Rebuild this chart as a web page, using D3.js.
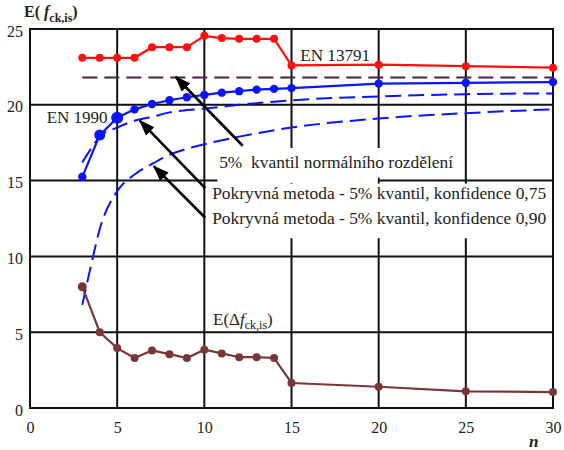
<!DOCTYPE html>
<html>
<head>
<meta charset="utf-8">
<script src="https://cdn.jsdelivr.net/npm/d3@7"></script>
<style>
  body { margin: 0; background: #fff; }
</style>
</head>
<body>
<svg class="chart"></svg>
<script>
const size = {w: 564, h: 450};
const plot = {left: 30, right: 553, top: 29, bottom: 408};
const serif = '"Liberation Serif"';

// x ticks / y ticks
const xTicks = [0, 5, 10, 15, 20, 25, 30];
const yTicks = [0, 5, 10, 15, 20, 25];

// EN 13791
const nRed = [3, 4, 5, 6, 7, 8, 9, 10, 11, 12, 13, 14, 15, 20, 25, 30];
const valRed = [23.1, 23.1, 23.1, 23.1, 23.8, 23.8, 23.8, 24.55, 24.4, 24.35, 24.35, 24.35, 22.6, 22.65, 22.55, 22.45];

// EN 1990
const nBlue = [3, 4, 5, 6, 7, 8, 9, 10, 11, 12, 13, 14, 15, 20, 25, 30];
const valBlue = [15.25, 18.0, 19.15, 19.7, 20.05, 20.3, 20.5, 20.65, 20.8, 20.9, 21.0, 21.05, 21.1, 21.4, 21.45, 21.5];

// E(delta f_ck,is)
const nBrown = [3, 4, 5, 6, 7, 8, 9, 10, 11, 12, 13, 14, 15, 20, 25, 30];
const valBrown = [8.0, 5.0, 3.95, 3.3, 3.8, 3.55, 3.3, 3.85, 3.6, 3.35, 3.35, 3.3, 1.65, 1.4, 1.1, 1.05];

// 5% kvantil normalniho rozdeleni
const nNormal = [3, 30];
const valNormal = [21.8, 21.8];

// pokryvna metoda, konfidence 0,75 a 0,90
const nCover = [3, 3.5, 4, 5, 6, 7, 8, 9, 10, 12, 15, 20, 25, 30];
const valCover75 = [16.2, 17.1, 17.9, 18.5, 18.95, 19.2, 19.5, 19.65, 19.75, 20.0, 20.3, 20.55, 20.7, 20.75];
const valCover90 = [6.8, 9.4, 11.8, 14.3, 15.4, 16.1, 16.7, 17.1, 17.4, 17.9, 18.5, 19.1, 19.45, 19.7];

const svg = d3.select('svg.chart')
    .attr('width', size.w)
    .attr('height', size.h);

const x = d3.scaleLinear().domain([0, 30]).range([plot.left, plot.right]);
const y = d3.scaleLinear().domain([0, 25]).range([plot.bottom, plot.top]);

// grid
const gridG = svg.append('g');
gridG.selectAll('line.v')
    .data(xTicks.slice(1, -1))
    .join('line')
    .attr('x1', d => x(d)).attr('x2', d => x(d))
    .attr('y1', plot.top).attr('y2', plot.bottom)
    .attr('stroke', '#111').attr('stroke-width', 2);
gridG.selectAll('line.h')
    .data(yTicks.slice(1, -1))
    .join('line')
    .attr('y1', d => y(d)).attr('y2', d => y(d))
    .attr('x1', plot.left).attr('x2', plot.right)
    .attr('stroke', '#111').attr('stroke-width', 2);

// white boxes behind the middle labels (they hide the grid)
const boxes = [
    {x0: 10.75, x1: 19.95, y0: 17.15, y1: 14.85},
    {x0: 19.95, x1: 24.45, y0: 17.15, y1: 15.2},
    {x0: 10.25, x1: 29.85, y0: 14.8, y1: 11.2}
];
svg.append('g').selectAll('rect')
    .data(boxes)
    .join('rect')
    .attr('x', d => x(d.x0)).attr('y', d => y(d.y0))
    .attr('width', d => x(d.x1) - x(d.x0))
    .attr('height', d => y(d.y1) - y(d.y0))
    .attr('fill', '#fff');

// frame
svg.append('rect')
    .attr('x', plot.left).attr('y', plot.top)
    .attr('width', plot.right - plot.left)
    .attr('height', plot.bottom - plot.top)
    .attr('fill', 'none').attr('stroke', '#111').attr('stroke-width', 2);

// axes (labels only)
const yAxis = svg.append('g')
    .attr('transform', `translate(${plot.left},2)`)
    .call(d3.axisLeft(y).tickValues(yTicks).tickSize(0).tickPadding(7));
const xAxis = svg.append('g')
    .attr('transform', `translate(0,${plot.bottom})`)
    .call(d3.axisBottom(x).tickValues(xTicks).tickSize(0).tickPadding(14));
[yAxis, xAxis].forEach(a => {
    a.select('.domain').remove();
    a.selectAll('text')
        .style('font-family', serif)
        .style('font-size', '16px')
        .attr('fill', '#222');
});

// series
function zip(ns, vs) { return ns.map((n, i) => ({n: n, v: vs[i]})); }

const line = d3.line().x(d => x(d.n)).y(d => y(d.v));
const smooth = d3.line().x(d => x(d.n)).y(d => y(d.v)).curve(d3.curveMonotoneX);

svg.append('path')
    .attr('d', line(zip(nNormal, valNormal)))
    .attr('fill', 'none').attr('stroke', '#4a1f4e').attr('stroke-width', 2)
    .attr('stroke-dasharray', '15,7');

[valCover75, valCover90].forEach(vals => {
    svg.append('path')
        .attr('d', smooth(zip(nCover, vals)))
        .attr('fill', 'none').attr('stroke', '#0a14ff').attr('stroke-width', 2)
        .attr('stroke-dasharray', '16,7');
});

const series = [
    {ns: nRed, vs: valRed, color: '#ff1010', r: () => 4},
    {ns: nBlue, vs: valBlue, color: '#0a14ff', r: d => d.n === 5 ? 6 : d.n === 4 ? 5.5 : 4.2},
    {ns: nBrown, vs: valBrown, color: '#7a3636', r: d => d.n === 3 ? 4.5 : 4}
];
series.forEach(s => {
    const pts = zip(s.ns, s.vs);
    const g = svg.append('g');
    g.append('path')
        .attr('d', line(pts))
        .attr('fill', 'none').attr('stroke', s.color).attr('stroke-width', 2.2);
    g.selectAll('circle')
        .data(pts)
        .join('circle')
        .attr('cx', d => x(d.n)).attr('cy', d => y(d.v))
        .attr('r', s.r)
        .attr('fill', s.color);
});

// arrows
svg.append('defs').append('marker')
    .attr('id', 'head')
    .attr('markerUnits', 'userSpaceOnUse')
    .attr('markerWidth', 16).attr('markerHeight', 12)
    .attr('refX', 15).attr('refY', 6)
    .attr('orient', 'auto')
    .append('path')
    .attr('d', 'M0,0 L16,6 L0,12 Z')
    .attr('fill', '#000');

const arrows = [
    {from: [12.2, 17.3], to: [8.35, 21.85]},
    {from: [10.05, 14.5], to: [6.3, 18.95]},
    {from: [10.05, 12.55], to: [7.1, 15.95]}
];
svg.append('g').selectAll('line')
    .data(arrows)
    .join('line')
    .attr('x1', d => x(d.from[0])).attr('y1', d => y(d.from[1]))
    .attr('x2', d => x(d.to[0])).attr('y2', d => y(d.to[1]))
    .attr('stroke', '#000').attr('stroke-width', 2.6)
    .attr('marker-end', 'url(#head)');

// labels (width fixed to the width measured on the reference)
function label(xv, yv, txt, width) {
    const t = svg.append('text')
        .attr('x', x(xv)).attr('y', y(yv))
        .attr('fill', '#222')
        .style('font-family', serif)
        .style('font-size', '17px')
        .text(txt);
    if (width) t.attr('textLength', width).attr('lengthAdjust', 'spacingAndGlyphs');
    return t;
}
label(15.5, 22.9, 'EN 13791', 70);
label(4.45, 18.8, 'EN 1990').attr('text-anchor', 'end');
label(10.85, 15.85, '5%  kvantil normálního rozdělení', 234).style('white-space', 'pre');
label(10.45, 13.8, 'Pokryvná metoda - 5% kvantil, konfidence 0,75', 334);
label(10.45, 12.15, 'Pokryvná metoda - 5% kvantil, konfidence 0,90', 334);

const dLabel = label(10.5, 5.5, null);
dLabel.append('tspan').text('E(Δ');
dLabel.append('tspan').style('font-style', 'italic').text('f');
dLabel.append('tspan').attr('dy', 4).style('font-size', '12px').text('ck,is');
dLabel.append('tspan').attr('dy', -4).text(')');

// axis titles
const yTitle = svg.append('text')
    .attr('x', 24).attr('y', 17)
    .attr('fill', '#222')
    .style('font-family', serif)
    .style('font-size', '16px').style('font-weight', 'bold');
yTitle.append('tspan').text('E(');
yTitle.append('tspan').style('font-style', 'italic').text(' f');
yTitle.append('tspan').attr('dy', 5).style('font-size', '12px').text('ck,is');
yTitle.append('tspan').attr('dy', -5).text(')');

svg.append('text')
    .attr('x', 529).attr('y', 447)
    .attr('fill', '#222')
    .style('font-family', serif)
    .style('font-size', '17px').style('font-weight', 'bold').style('font-style', 'italic')
    .text('n');
</script>
</body>
</html>
